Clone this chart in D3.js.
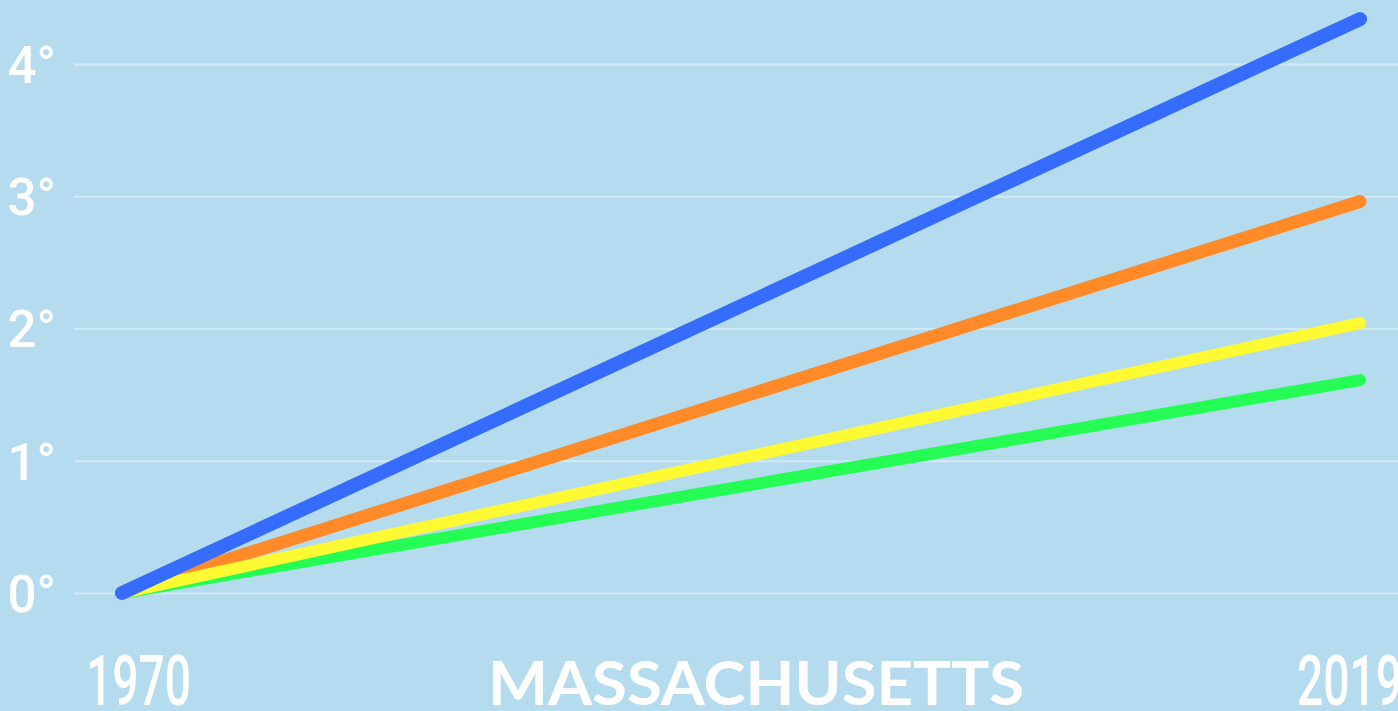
<!DOCTYPE html>
<html>
<head>
<meta charset="utf-8">
<script src="https://cdn.jsdelivr.net/npm/d3@7"></script>
<style>
  html, body { margin: 0; padding: 0; background: #b5dbef; overflow: hidden; }
  svg { display: block; }
</style>
</head>
<body>
<svg id="chart" width="1398" height="711"></svg>
<script>
// Warming since 1970 (degrees), one line per scenario
const years = [1970, 2019];
const blueValues = [0, 4.34];
const orangeValues = [0, 2.96];
const yellowValues = [0, 2.04];
const greenValues = [0, 1.61];
const yTicks = [0, 1, 2, 3, 4];
const xLabels = ["1970", "2019"];
const title = "MASSACHUSETTS";

const W = 1398, H = 711;
const svg = d3.select("#chart");

svg.append("rect").attr("width", W).attr("height", H).attr("fill", "#b5dbef");

const x = d3.scaleLinear().domain([1970, 2019]).range([122, 1360]);
const y = d3.scaleLinear().domain([0, 4]).range([593, 64]);

// horizontal grid with degree labels
const yAxis = d3.axisLeft(y).tickValues(yTicks).tickSize(-(W - 74)).tickFormat(d => d + "°");
const gy = svg.append("g").attr("transform", "translate(74,0)").call(yAxis);
gy.select(".domain").remove();
gy.selectAll(".tick line").attr("stroke", "#d2e9f5").attr("stroke-width", 2);
gy.selectAll(".tick text")
  .attr("x", -18)
  .attr("dy", "0.36em")
  .attr("fill", "#ffffff")
  .attr("font-family", "Roboto, sans-serif")
  .attr("font-weight", 500)
  .attr("font-size", 51)
  .attr("text-anchor", "end");

// scenario lines
const series = [
  { values: greenValues, color: "#25fd55", width: 12 },
  { values: orangeValues, color: "#ff8a27", width: 13 },
  { values: yellowValues, color: "#fdf933", width: 12 },
  { values: blueValues, color: "#366cfb", width: 14 }
];
const line = d3.line().x((d, i) => x(years[i])).y(d => y(d));
svg.append("g").selectAll("path").data(series).join("path")
  .attr("d", d => line(d.values))
  .attr("fill", "none")
  .attr("stroke", d => d.color)
  .attr("stroke-width", d => d.width)
  .attr("stroke-linecap", "round")
  .attr("stroke-linejoin", "round");

// year labels, condensed
const yearPos = [86, 1297];
svg.append("g").selectAll("text").data(xLabels).join("text")
  .attr("transform", (d, i) => `translate(${yearPos[i]},705) scale(0.66,1)`)
  .attr("fill", "#ffffff")
  .attr("font-family", "Roboto, sans-serif")
  .attr("font-weight", 500)
  .attr("font-size", 70)
  .text(d => d);

// state name
svg.append("text")
  .attr("x", 488)
  .attr("y", 705)
  .attr("textLength", 536)
  .attr("lengthAdjust", "spacingAndGlyphs")
  .attr("fill", "#ffffff")
  .attr("font-family", "Lato, sans-serif")
  .attr("font-weight", 700)
  .attr("font-size", 62)
  .text(title);
</script>
</body>
</html>
